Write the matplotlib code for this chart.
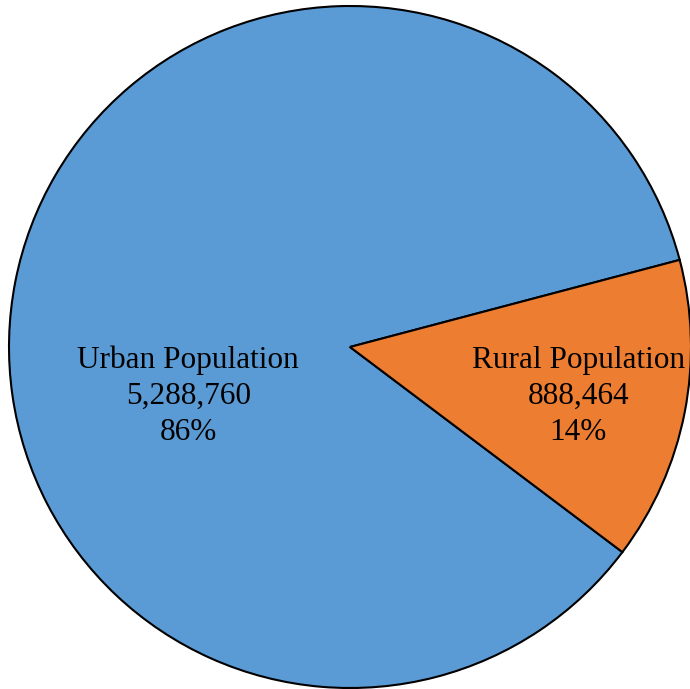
import matplotlib.pyplot as plt

labels = ["Urban Population", "Rural Population"]
values = [5288760, 888464]
colors = ["#5B9BD5", "#ED7D31"]

total = sum(values)
start = 14.8  # angle where urban wedge begins (counterclockwise)

plt.rcParams["font.family"] = ["Liberation Serif", "DejaVu Serif"]

fig = plt.figure(figsize=(6.9, 6.89), dpi=100)
ax = fig.add_axes([0, 0, 1, 1])

wedges, _ = ax.pie(values, colors=colors, startangle=start, counterclock=True,
                   radius=1, wedgeprops=dict(edgecolor="black", linewidth=1.5))

# label positions (data coords, radius 1)
label_pos = [(-0.474, -0.145), (0.669, -0.145)]
for lab, v, (x, y) in zip(labels, values, label_pos):
    pct = round(v / total * 100)
    ax.text(x, y, f"{lab}\n{v:,}\n{pct}%", ha="center", va="center",
            fontsize=22.5, linespacing=1.32)

ax.set_xlim(-350 / 341, 340 / 341)
ax.set_ylim(-342 / 341, 347 / 341)
ax.set_aspect("auto")
ax.axis("off")

fig.savefig("out.png", dpi=100)
